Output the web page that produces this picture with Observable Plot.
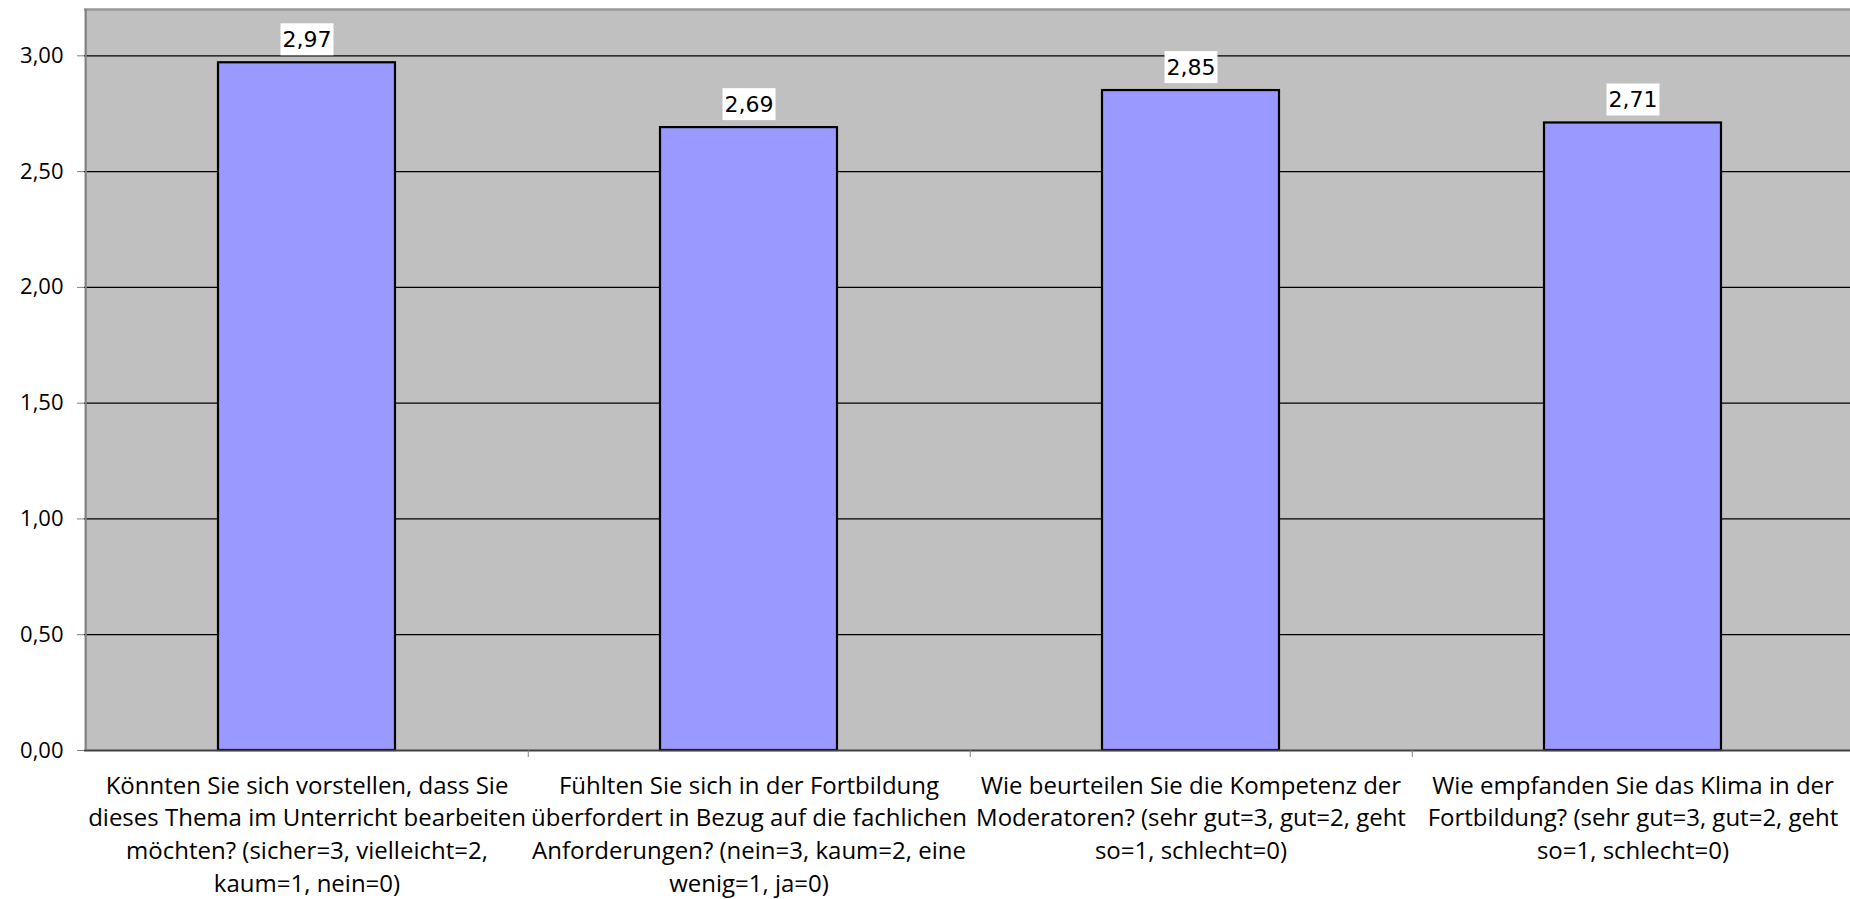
<!DOCTYPE html>
<html>
<head>
<meta charset="utf-8">
<script src="https://cdn.jsdelivr.net/npm/d3@7"></script>
<script src="https://cdn.jsdelivr.net/npm/@observablehq/plot@0.6"></script>
<style>
  html, body { margin: 0; padding: 0; background: #fff; overflow: hidden; }
  #chart svg { display: block; }
</style>
</head>
<body>
<div id="chart"></div>
<script>
const categories = [
  "Könnten Sie sich vorstellen, dass Sie\ndieses Thema im Unterricht bearbeiten\nmöchten? (sicher=3, vielleicht=2,\nkaum=1, nein=0)",
  "Fühlten Sie sich in der Fortbildung\nüberfordert in Bezug auf die fachlichen\nAnforderungen? (nein=3, kaum=2, eine\nwenig=1, ja=0)",
  "Wie beurteilen Sie die Kompetenz der\nModeratoren? (sehr gut=3, gut=2, geht\nso=1, schlecht=0)",
  "Wie empfanden Sie das Klima in der\nFortbildung? (sehr gut=3, gut=2, geht\nso=1, schlecht=0)"
];
const values = [2.97, 2.69, 2.85, 2.71];
const yTicks = [0, 0.5, 1, 1.5, 2, 2.5, 3];

const data = categories.map((c, i) => ({cat: c, value: values[i]}));
const fmt = v => v.toFixed(2).replace(".", ",");

const W = 1850, H = 899, ML = 84, MR = -4, MT = 9, MB = 149;
const step = (W - ML - MR) / categories.length;

const chart = Plot.plot({
  width: W, height: H,
  marginLeft: ML, marginRight: MR, marginTop: MT, marginBottom: MB,
  style: {fontFamily: "'Open Sans', sans-serif", color: "#000", background: "#fff"},
  x: {domain: categories, paddingInner: 0.6, paddingOuter: 0.3, axis: null, label: null},
  y: {domain: [0, 3.2], axis: null, label: null},
  marks: [
    Plot.frame({fill: "#c0c0c0", stroke: null}),
    Plot.ruleY(yTicks.slice(1), {stroke: "#000", strokeWidth: 1.2}),
    Plot.barY(data, {x: "cat", y: "value", fill: "#9999ff", stroke: "#000", strokeWidth: 2.2}),
    Plot.ruleY([0], {stroke: "#404040", strokeWidth: 2}),
    Plot.ruleY([3.2], {stroke: "#999", strokeWidth: 2.5}),
    Plot.ruleX([categories[0]], {dx: -step / 2, stroke: "#808080", strokeWidth: 2}),
    Plot.axisY({ticks: yTicks, tickSize: 7, tickPadding: 14, tickFormat: fmt, fontSize: 22, stroke: "#808080", label: null}),
    Plot.axisX({tickSize: 0, tickPadding: 20, fontSize: 24, lineHeight: 1.36, tickFormat: d => d, label: null}),
    Plot.axisX({tickSize: 7, dx: step / 2, tickFormat: () => "", stroke: "#808080", label: null}),
    Plot.text(data, {x: "cat", y: "value", text: d => fmt(d.value), dy: -23, lineAnchor: "middle", fontSize: 22, fontFamily: "DejaVu Sans", fill: "#000"})
  ]
});
document.getElementById("chart").append(chart);

// white boxes behind the value labels
chart.querySelectorAll('g[aria-label="text"] text').forEach(t => {
  const b = t.getBBox();
  const r = document.createElementNS("http://www.w3.org/2000/svg", "rect");
  const cy = b.y + b.height / 2;
  r.setAttribute("x", b.x - 2);
  r.setAttribute("width", b.width + 4);
  r.setAttribute("y", cy - 16);
  r.setAttribute("height", 32);
  r.setAttribute("fill", "#fff");
  if (t.getAttribute("transform")) r.setAttribute("transform", t.getAttribute("transform"));
  t.parentNode.insertBefore(r, t);
});
</script>
</body>
</html>
